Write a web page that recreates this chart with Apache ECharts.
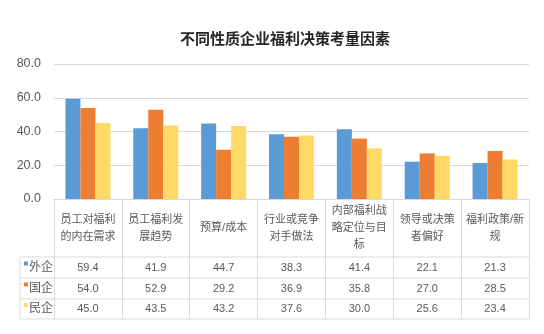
<!DOCTYPE html>
<html>
<head>
<meta charset="utf-8">
<script src="https://cdn.jsdelivr.net/npm/echarts@6/dist/echarts.min.js"></script>
<style>
  html, body { margin: 0; padding: 0; background: #fff; }
  #chart { width: 544px; height: 334px; }
</style>
</head>
<body>
<div id="chart"></div>
<script>
// Decision factors for company welfare, by ownership type
const categories = ['员工对福利的内在需求', '员工福利发展趋势', '预算/成本', '行业或竞争对手做法', '内部福利战略定位与目标', '领导或决策者偏好', '福利政策/新规'];
const seriesNames = ['外企', '国企', '民企'];
const foreignValues = [59.4, 41.9, 44.7, 38.3, 41.4, 22.1, 21.3];
const stateValues = [54.0, 52.9, 29.2, 36.9, 35.8, 27.0, 28.5];
const privateValues = [45.0, 43.5, 43.2, 37.6, 30.0, 25.6, 23.4];
const yTicks = [0, 20, 40, 60, 80];

const colors = ['#5B9BD5', '#ED7D31', '#FFD966'];
const textColor = '#595959';
const lineColor = '#D9D9D9';
const font = 'Liberation Sans, Arial, "Noto Sans CJK SC", sans-serif';
const allValues = [foreignValues, stateValues, privateValues];

// table geometry below the plot
const tableLeft = 20, tableRight = 529;
const rowLines = [257, 278, 299, 319];
const plotBottom = 199;

const chart = echarts.init(document.getElementById('chart'));
chart.setOption({
  animation: false,
  backgroundColor: '#fff',
  color: colors,
  textStyle: { fontFamily: font },
  title: {
    text: '不同性质企业福利决策考量因素',
    left: 280, top: 27, textAlign: 'center',
    textStyle: { fontSize: 15, fontWeight: 'bold', color: '#262626', fontFamily: font }
  },
  grid: { left: 54, right: 544 - tableRight, top: 64, bottom: 334 - plotBottom, containLabel: false },
  xAxis: {
    type: 'category',
    data: categories,
    axisLine: { lineStyle: { color: lineColor } },
    axisTick: { show: true, length: rowLines[3] - plotBottom, lineStyle: { color: lineColor } },
    axisLabel: {
      interval: 0, color: textColor, fontSize: 11, lineHeight: 17,
      width: 61, overflow: 'break', verticalAlign: 'middle', margin: 29
    }
  },
  yAxis: {
    type: 'value',
    min: yTicks[0], max: yTicks[yTicks.length - 1], interval: 20,
    axisLine: { show: false }, axisTick: { show: false },
    splitLine: { lineStyle: { color: lineColor } },
    axisLabel: { color: textColor, fontSize: 12.5, margin: 13, formatter: v => v.toFixed(1) }
  },
  series: seriesNames.map((name, k) => ({
    name, type: 'bar', data: allValues[k], barWidth: 15, barGap: '0%'
  }))
});

// Data table: row names with colour keys, and the values under each category
function drawTable() {
  const els = [];
  rowLines.forEach(y => els.push({
    type: 'line', shape: { x1: tableLeft, y1: y, x2: tableRight, y2: y },
    style: { stroke: lineColor, lineWidth: 1 }, silent: true
  }));
  els.push({
    type: 'line', shape: { x1: tableLeft, y1: rowLines[0], x2: tableLeft, y2: rowLines[3] },
    style: { stroke: lineColor, lineWidth: 1 }, silent: true
  });
  seriesNames.forEach((name, k) => {
    const yc = (rowLines[k] + rowLines[k + 1]) / 2;
    els.push({
      type: 'rect', shape: { x: 24, y: yc - 6, width: 4, height: 4 },
      style: { fill: colors[k] }, silent: true
    });
    els.push({
      type: 'text', x: 29, y: yc,
      style: { text: name, fill: textColor, font: '12px ' + font, textAlign: 'left', textVerticalAlign: 'middle' },
      silent: true
    });
    allValues[k].forEach((v, i) => {
      const xc = chart.convertToPixel({ xAxisIndex: 0 }, i);
      els.push({
        type: 'text', x: xc, y: yc,
        style: { text: v.toFixed(1), fill: textColor, font: '11px ' + font, textAlign: 'center', textVerticalAlign: 'middle' },
        silent: true
      });
    });
  });
  chart.setOption({ graphic: { elements: els } });
}
drawTable();
</script>
</body>
</html>
